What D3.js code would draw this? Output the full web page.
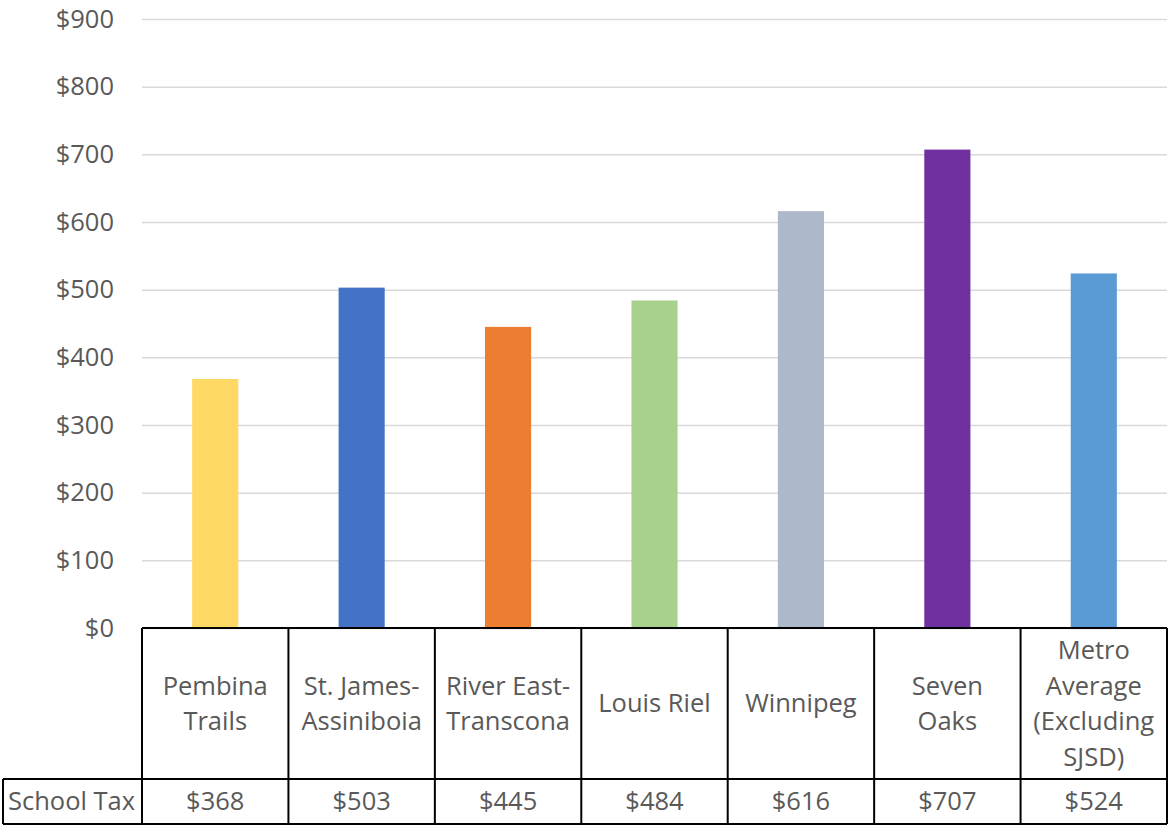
<!DOCTYPE html>
<html>
<head>
<meta charset="utf-8">
<script src="https://cdn.jsdelivr.net/npm/d3@7"></script>
<style>
body { margin: 0; background: #fff; }
text { font-family: "Open Sans", "Noto Sans", sans-serif; fill: #595959; }
</style>
</head>
<body>
<div id="chart"></div>
<script>
// chart data
var categories = ["Pembina Trails", "St. James-Assiniboia", "River East-Transcona", "Louis Riel", "Winnipeg", "Seven Oaks", "Metro Average (Excluding SJSD)"];
var labelLines = [["Pembina", "Trails"], ["St. James-", "Assiniboia"], ["River East-", "Transcona"], ["Louis Riel"], ["Winnipeg"], ["Seven", "Oaks"], ["Metro", "Average", "(Excluding", "SJSD)"]];
var schoolTax = [368, 503, 445, 484, 616, 707, 524];
var seriesName = "School Tax";
var barColors = ["#FFD966", "#4472C4", "#ED7D31", "#A9D18E", "#ADB9CA", "#7030A0", "#5B9BD5"];
var yTicks = [0, 100, 200, 300, 400, 500, 600, 700, 800, 900];

var width = 1169, height = 825;
var plotLeft = 142, plotRight = 1167, plotTop = 19, plotBottom = 628;
var catRowBottom = 779, tableBottom = 824, tableLeft = 3;
var tableFont = "25.5px";

var svg = d3.select("#chart").append("svg")
	.attr("width", width)
	.attr("height", height);

var x = d3.scaleBand().domain(categories).range([plotLeft, plotRight]).paddingInner(0).paddingOuter(0);
var y = d3.scaleLinear().domain([0, 900]).range([plotBottom, plotTop]);
var fmt = d => "$" + d3.format(",")(d);

// gridlines + y labels
var yAxis = d3.axisLeft(y).tickValues(yTicks).tickSize(-(plotRight - plotLeft)).tickFormat(fmt).tickPadding(28);
var gy = svg.append("g").attr("transform", "translate(" + plotLeft + ",0)").call(yAxis);
gy.select(".domain").remove();
gy.selectAll(".tick line").attr("stroke", "#d9d9d9").attr("stroke-width", 1.5);
gy.selectAll(".tick text").style("font-size", "25.5px").attr("fill", "#595959");

// bars
var barW = x.bandwidth() * 0.315;
svg.append("g").selectAll("rect")
	.data(schoolTax)
	.enter()
	.append("rect")
		.attr("x", (d, i) => x(categories[i]) + (x.bandwidth() - barW) / 2)
		.attr("y", d => y(d))
		.attr("width", barW)
		.attr("height", d => y(0) - y(d))
		.attr("fill", (d, i) => barColors[i]);

// data table
var table = svg.append("g").attr("fill", "none").attr("stroke", "#000").attr("stroke-width", 2);
table.append("line").attr("x1", plotLeft).attr("x2", plotRight).attr("y1", plotBottom).attr("y2", plotBottom);
table.append("line").attr("x1", tableLeft).attr("x2", plotRight).attr("y1", catRowBottom).attr("y2", catRowBottom);
table.append("line").attr("x1", tableLeft).attr("x2", plotRight).attr("y1", tableBottom).attr("y2", tableBottom);
table.append("line").attr("x1", tableLeft).attr("x2", tableLeft).attr("y1", catRowBottom).attr("y2", tableBottom);
categories.concat([null]).forEach(function (c) {
	var xx = c === null ? plotRight : x(c);
	table.append("line").attr("x1", xx).attr("x2", xx).attr("y1", plotBottom).attr("y2", tableBottom);
});

var lineH = 35.5;
var catMid = (plotBottom + catRowBottom) / 2;
var labels = svg.append("g").selectAll("text")
	.data(categories)
	.enter()
	.append("text")
		.attr("text-anchor", "middle")
		.style("font-size", tableFont)
		.attr("x", d => x(d) + x.bandwidth() / 2);
labels.each(function (d, i) {
	var lines = labelLines[i];
	var y0 = catMid - (lines.length - 1) * lineH / 2;
	d3.select(this).selectAll("tspan")
		.data(lines)
		.enter()
		.append("tspan")
			.attr("x", x(d) + x.bandwidth() / 2)
			.attr("y", (l, j) => y0 + j * lineH)
			.attr("dy", "0.35em")
			.text(l => l);
});

var valMid = (catRowBottom + tableBottom) / 2;
svg.append("text")
	.attr("x", 8)
	.attr("y", valMid)
	.attr("dy", "0.35em")
	.style("font-size", tableFont)
	.text(seriesName);
svg.append("g").selectAll("text")
	.data(schoolTax)
	.enter()
	.append("text")
		.attr("text-anchor", "middle")
		.attr("x", (d, i) => x(categories[i]) + x.bandwidth() / 2)
		.attr("y", valMid)
		.attr("dy", "0.35em")
		.style("font-size", tableFont)
		.text(fmt);
</script>
</body>
</html>
